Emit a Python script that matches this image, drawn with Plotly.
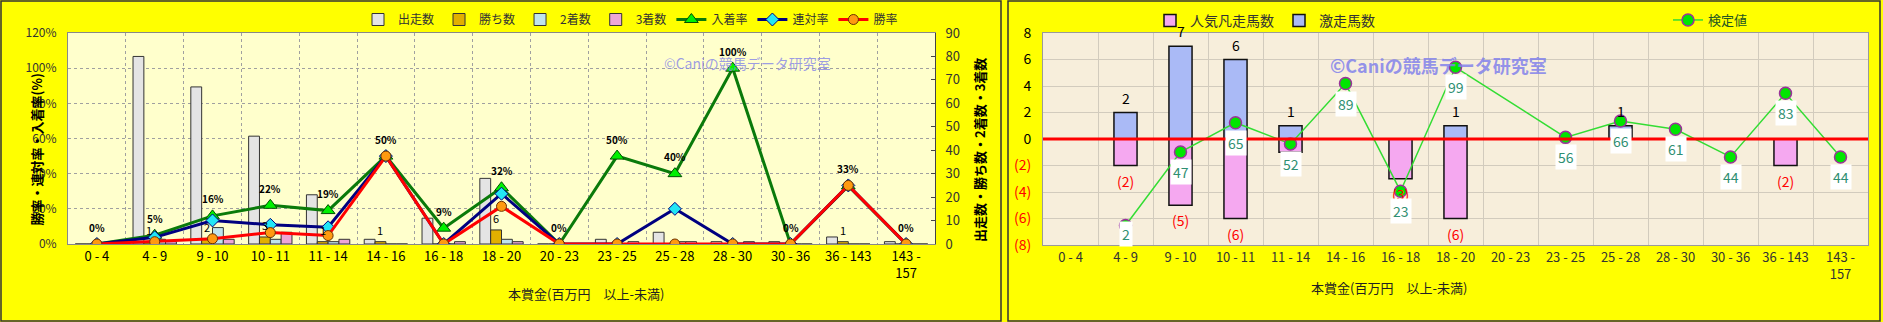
import plotly.graph_objects as go

W, H = 1883, 322

# ---------------- data ----------------
categories = ["0 - 4", "4 - 9", "9 - 10", "10 - 11", "11 - 14", "14 - 16", "16 - 18",
              "18 - 20", "20 - 23", "23 - 25", "25 - 28", "28 - 30", "30 - 36",
              "36 - 143", "143 - 157"]
tick_labels = ["0 - 4", "4 - 9", "9 - 10", "10 - 11", "11 - 14", "14 - 16", "16 - 18",
               "18 - 20", "20 - 23", "23 - 25", "25 - 28", "28 - 30", "30 - 36",
               "36 - 143", "143 -<br>157"]

starts = [0, 80, 67, 46, 21, 2, 11, 28, 0, 2, 5, 1, 1, 3, 1]        # 出走数
wins = [0, 1, 2, 3, 1, 1, 0, 6, 0, 0, 0, 0, 0, 1, 0]                # 勝ち数
seconds = [0, 2, 7, 2, 1, 0, 0, 2, 0, 0, 1, 0, 0, 0, 0]             # 2着数
thirds = [0, 1, 2, 5, 2, 0, 1, 1, 0, 1, 1, 1, 0, 0, 0]              # 3着数
place_rate = [0, 5, 16, 22, 19, 50, 9, 32, 0, 50, 40, 100, 0, 33, 0]            # 入着率
quinella_rate = [0, 3.8, 13.4, 10.9, 9.5, 50, 0, 28.6, 0, 0, 20, 0, 0, 33.3, 0]  # 連対率
win_rate = [0, 1.3, 3.0, 6.5, 4.8, 50, 0, 21.4, 0, 0, 0, 0, 0, 33.3, 0]          # 勝率

surge = [0, 2, 7, 6, 1, 0, 0, 1, 0, 0, 1, 0, 0, 0, 0]               # 激走馬数
flop = [0, -2, -5, -6, -1, 0, -3, -6, 0, 0, 0, 0, 0, -2, 0]         # 人気凡走馬数
test_val = [None, 2, 47, 65, 52, 89, 23, 99, None, 56, 66, 61, 44, 83, 44]  # 検定値

right_ticks = [8, 6, 4, 2, 0, -2, -4, -6, -8]

# ---------------- layout constants ----------------
FONT = "Noto Sans CJK JP"
L_X0, L_X1 = 68, 935
R_X0, R_X1 = 1043, 1868
Y_TOP, Y_BOT = 33, 244
R_Y_TOP, R_Y_BOT = 33, 245

fig = go.Figure()

# ---------------- left chart ----------------
bar_specs = [("出走数", starts, "#e4e4e4"),
             ("勝ち数", wins, "#e2b000"),
             ("2着数", seconds, "#bfe4ee"),
             ("3着数", thirds, "#eea6d6")]
for name, vals, col in bar_specs:
    fig.add_trace(go.Bar(x=categories, y=vals, name=name, xaxis="x", yaxis="y",
                         marker=dict(color=col, line=dict(color="#333333", width=1)),
                         legend="legend", hoverinfo="skip"))

line_specs = [("入着率", place_rate, "#0a7a0a", "triangle-up", "#00f000", "#005000", 12),
              ("連対率", quinella_rate, "#000080", "diamond", "#22e6f5", "#000080", 10),
              ("勝率", win_rate, "#ff0000", "circle", "#ff9a10", "#6a3000", 10)]
for name, vals, lc, sym, mc, mlc, ms in line_specs:
    fig.add_trace(go.Scatter(x=categories, y=vals, name=name, xaxis="x", yaxis="y2",
                             mode="lines+markers",
                             line=dict(color=lc, width=3),
                             marker=dict(symbol=sym, size=ms, color=mc, line=dict(color=mlc, width=1)),
                             legend="legend", hoverinfo="skip"))

# ---------------- right chart ----------------
fig.add_trace(go.Bar(x=categories, y=flop, name="人気凡走馬数", xaxis="x2", yaxis="y3",
                     width=0.42, offset=-0.21,
                     marker=dict(color="#f5a8f0", line=dict(color="#111111", width=1.5)),
                     legend="legend2", hoverinfo="skip"))
fig.add_trace(go.Bar(x=categories, y=surge, name="激走馬数", xaxis="x2", yaxis="y3",
                     width=0.42, offset=-0.21,
                     marker=dict(color="#aabaf6", line=dict(color="#111111", width=1.5)),
                     legend="legend2", hoverinfo="skip"))
fig.add_trace(go.Scatter(x=categories, y=test_val, name="検定値", xaxis="x2", yaxis="y4",
                         mode="lines+markers", connectgaps=True,
                         line=dict(color="#33dd33", width=1.5),
                         marker=dict(size=12, color="#00e600", line=dict(color="#993399", width=1.5)),
                         legend="legend3", hoverinfo="skip"))

annotations = []

# labels for 入着率
for c, v in zip(categories, place_rate):
    annotations.append(dict(x=c, y=v, xref="x", yref="y2", text=f"<b>{v:g}%</b>",
                            showarrow=False, yshift=17,
                            font=dict(family=FONT, size=10, color="#000")))
# labels for 勝ち数
bar_w_px = (L_X1 - L_X0) / len(categories) * 0.75 / 4
for c, v in zip(categories, wins):
    if v:
        annotations.append(dict(x=c, y=v, xref="x", yref="y", text=str(v),
                                showarrow=False, yshift=12, xshift=-bar_w_px / 2,
                                font=dict(family=FONT, size=11, color="#000")))

# right chart bar labels
for c, v in zip(categories, surge):
    if v:
        annotations.append(dict(x=c, y=v, xref="x2", yref="y3", text=str(v),
                                showarrow=False, yshift=15,
                                font=dict(family=FONT, size=14, color="#000")))
for c, v in zip(categories, flop):
    if v:
        annotations.append(dict(x=c, y=v, xref="x2", yref="y3", text=f"({-v})",
                                showarrow=False, yshift=-15,
                                font=dict(family=FONT, size=14, color="#ff0000")))
# 検定値 labels
for c, v in zip(categories, test_val):
    if v is not None:
        annotations.append(dict(x=c, y=v, xref="x2", yref="y4", text=str(v),
                                showarrow=False, yshift=(-20 if v >= 10 else -9),
                                bgcolor="#ffffff", borderpad=2,
                                font=dict(family=FONT, size=14, color="#2f8f72")))

# axis titles & watermarks
annotations += [
    dict(x=24 / W, y=1 - 150 / H, xref="paper", yref="paper", text="<b>勝率・連対率・入着率(%)</b>",
         textangle=-90, showarrow=False, font=dict(family=FONT, size=13, color="#000")),
    dict(x=979 / W, y=1 - 150 / H, xref="paper", yref="paper", text="<b>出走数・勝ち数・2着数・3着数</b>",
         textangle=-90, showarrow=False, font=dict(family=FONT, size=13, color="#000")),
    dict(x=506 / W, y=1 - 305 / H, xref="paper", yref="paper", text="本賞金(百万円　以上-未満)",
         showarrow=False, font=dict(family=FONT, size=13, color="#222")),
    dict(x=1469 / W, y=1 - 299 / H, xref="paper", yref="paper", text="本賞金(百万円　以上-未満)",
         showarrow=False, font=dict(family=FONT, size=13, color="#222")),
    dict(x=747 / W, y=1 - 51 / H, xref="paper", yref="paper", text="©Caniの競馬データ研究室",
         showarrow=False, font=dict(family=FONT, size=14, color="rgba(140,140,230,0.85)")),
    dict(x=1549 / W, y=1 - 50 / H, xref="paper", yref="paper", text="<b>©Caniの競馬データ研究室</b>",
         showarrow=False, font=dict(family=FONT, size=18, color="rgba(130,130,235,0.85)")),
]

ticktext_right = [str(t) if t >= 0 else f'<span style="color:#ff0000">({-t})</span>' for t in right_ticks]

shapes = [
    # right plot background
    dict(type="rect", xref="x2 domain", yref="y3 domain", x0=0, x1=1, y0=0, y1=1,
         fillcolor="#f7eedb", line=dict(width=0), layer="below"),
    # zero line
    dict(type="line", xref="x2 domain", yref="y3", x0=0, x1=1, y0=0, y1=0,
         line=dict(color="#ff0000", width=3), layer="above"),
    # panel borders
    dict(type="rect", xref="paper", yref="paper", x0=1 / W, x1=1001 / W, y0=1 / H, y1=1 - 1 / H,
         line=dict(color="#333333", width=1.5), layer="above"),
    dict(type="rect", xref="paper", yref="paper", x0=1008 / W, x1=1880 / W, y0=1 / H, y1=1 - 1 / H,
         line=dict(color="#333333", width=1.5), layer="above"),
]

fig.update_layout(
    width=W, height=H,
    margin=dict(l=0, r=0, t=0, b=0, autoexpand=False),
    paper_bgcolor="#ffff00",
    plot_bgcolor="#ffffcc",
    font=dict(family=FONT, size=12, color="#222"),
    barmode="group", bargap=0.25, bargroupgap=0,
    showlegend=True,
    xaxis=dict(domain=[L_X0 / W, L_X1 / W], anchor="y", type="category",
               tickson="boundaries", showgrid=True, gridcolor="#a0a0a0", griddash="dot",
               gridwidth=1, showline=True, linecolor="#888888", mirror=True, ticks="",
               tickvals=categories, ticktext=tick_labels, range=[-0.5, len(categories) - 0.5],
               tickfont=dict(family=FONT, size=13, color="#000"), automargin=False,
               fixedrange=True),
    yaxis=dict(domain=[1 - Y_BOT / H, 1 - Y_TOP / H], anchor="x", side="right",
               range=[0, 90], dtick=10, showgrid=False, zeroline=False,
               showline=True, linecolor="#444444", ticks="inside", ticklen=4, tickcolor="#444",
               ticklabelstandoff=7,
               tickfont=dict(family=FONT, size=13, color="#333"), automargin=False),
    yaxis2=dict(overlaying="y", anchor="x", side="left", range=[0, 120], dtick=20,
                ticksuffix="%", showgrid=True, gridcolor="#a0a0a0", griddash="dot",
                zeroline=False, showline=True, linecolor="#888888", ticklabelstandoff=8,
                tickfont=dict(family=FONT, size=12, color="#333"), automargin=False),
    xaxis2=dict(domain=[R_X0 / W, R_X1 / W], anchor="y3", type="category",
                tickson="boundaries", showgrid=True, gridcolor="#d2cbbd", gridwidth=1,
                showline=True, linecolor="#9a9a9a", mirror=True, ticks="",
                tickvals=categories, ticktext=tick_labels, range=[-0.5, len(categories) - 0.5],
                tickfont=dict(family=FONT, size=13, color="#333"), automargin=False),
    yaxis3=dict(domain=[1 - R_Y_BOT / H, 1 - R_Y_TOP / H], anchor="x2", range=[-8, 8],
                tickvals=right_ticks, ticktext=ticktext_right, showgrid=True,
                gridcolor="#d2cbbd", zeroline=False, showline=True, linecolor="#9a9a9a",
                mirror=True, ticklabelstandoff=8,
                tickfont=dict(family=FONT, size=14, color="#000"), automargin=False),
    yaxis4=dict(overlaying="y3", anchor="x2", range=[-10, 120], visible=False),
    legend=dict(orientation="h", x=358 / W, y=1 - 5 / H, xanchor="left", yanchor="top",
                bgcolor="rgba(0,0,0,0)", font=dict(family=FONT, size=12, color="#333"),
                itemwidth=30),
    legend2=dict(orientation="h", x=1150 / W, y=1 - 5 / H, xanchor="left", yanchor="top",
                 bgcolor="rgba(0,0,0,0)", font=dict(family=FONT, size=14, color="#333"),
                 itemwidth=30),
    legend3=dict(orientation="h", x=1668 / W, y=1 - 5 / H, xanchor="left", yanchor="top",
                 bgcolor="rgba(0,0,0,0)", font=dict(family=FONT, size=13, color="#225522"),
                 itemwidth=30),
    annotations=annotations,
    shapes=shapes,
)

fig.write_html("out.html")
